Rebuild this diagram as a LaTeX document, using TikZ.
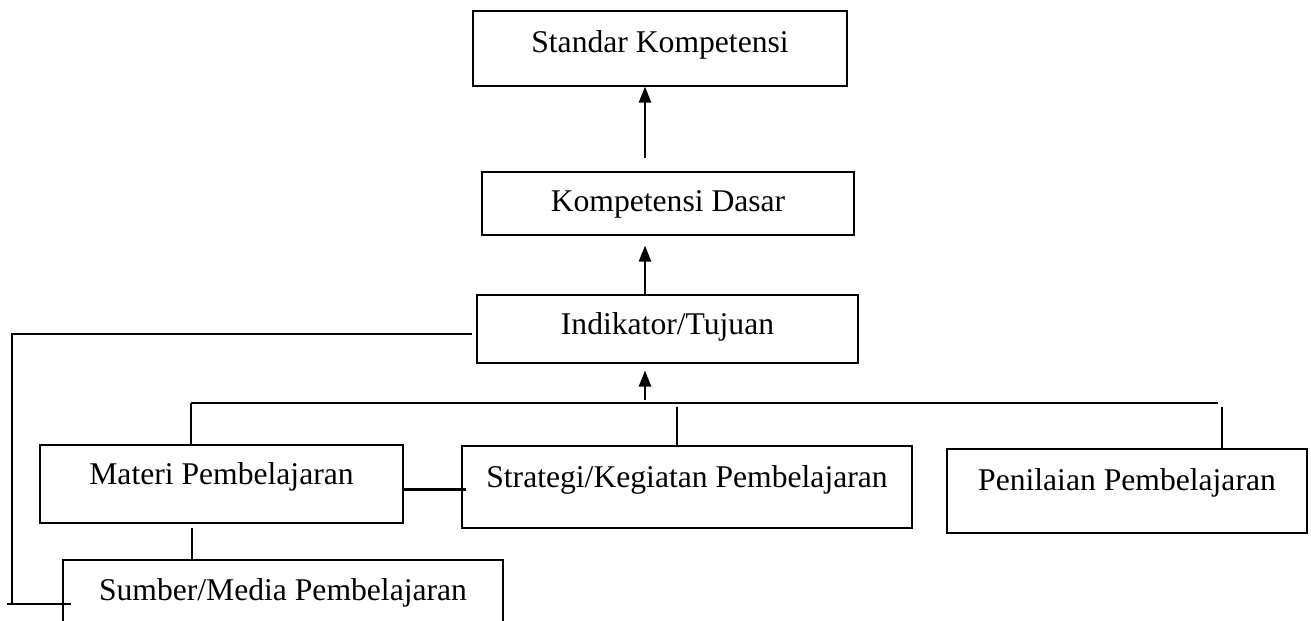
\documentclass[tikz,border=0pt]{standalone}
\usepackage{fontspec}
\setmainfont{Liberation Serif}
\usetikzlibrary{arrows.meta, calc}

\begin{document}
\begin{tikzpicture}[x=0.02cm,y=-0.02cm,line width=0.8pt,
		box/.style={draw,rectangle,inner sep=0pt,text height=6pt,text depth=6pt,font=\fontsize{18}{22}\selectfont},
		up/.style={-{Triangle[width=7pt,length=9pt]}}]
			\clip (0,0) rectangle (1311,620);
			\node[box,minimum width=7.48cm,minimum height=1.5cm,text height=9pt,text depth=3.9pt] (sk) at (660,48.5) {Standar Kompetensi};
			\node[box,minimum width=7.44cm,minimum height=1.26cm,text height=11pt,text depth=1.4pt] (kd) at (668,203.5) {Kompetensi Dasar};
			\node[box,minimum width=7.62cm,minimum height=1.36cm,text height=10pt,text depth=3.2pt] (ind) at (667.5,329) {Indikator/Tujuan};
			\node[box,minimum width=7.26cm,minimum height=1.56cm,text height=6.5pt,text depth=5.4pt] (mat) at (221.5,484) {Materi Pembelajaran};
			\node[box,minimum width=9cm,minimum height=1.64cm] (str) at (687,487) {Strategi/Kegiatan Pembelajaran};
			\node[box,minimum width=7.2cm,minimum height=1.68cm,text height=5.5pt,text depth=6.6pt] (pen) at (1127,491) {Penilaian Pembelajaran};
			\node[box,minimum width=8.8cm,minimum height=2cm,text height=1pt,text depth=12.3pt] (sum) at (283,610) {Sumber/Media Pembelajaran};
			\coordinate (spine) at (645,400);
			\coordinate (busL) at (191,403);
			\coordinate (busR) at (1218,403);
			\coordinate (busS) at (677,407);
			\coordinate (busP) at (1222,407);
			\coordinate (loop) at (12,603);
			\coordinate (stub) at (7,604);
			\path[up] 	($(spine |- kd.north)+(0,-13)$) edge (spine |- sk.south)
						(spine |- ind.north) edge ($(spine |- kd.south)+(0,10)$)
						(spine) edge ($(spine |- ind.south)+(0,7)$);
			\draw (busL) -- (busR);
			\draw (busL) -- (busL |- mat.north);
			\draw (busS) -- (busS |- str.north);
			\draw (busP) -- (busP |- pen.north);
			\draw ($(ind.west)+(-4,5)$) -| (loop);
			\draw (stub) -- ($(sum.west |- stub)+(9,0)$);
			\draw ($(busL |- mat.south)+(1,4)$) -- ($(busL |- sum.north)+(1,0)$);
			\draw[line width=1.7pt] ($(mat.east)+(0,5)$) -- ($(str.west |- mat.east)+(5,5)$);
	\end{tikzpicture}
\end{document}
